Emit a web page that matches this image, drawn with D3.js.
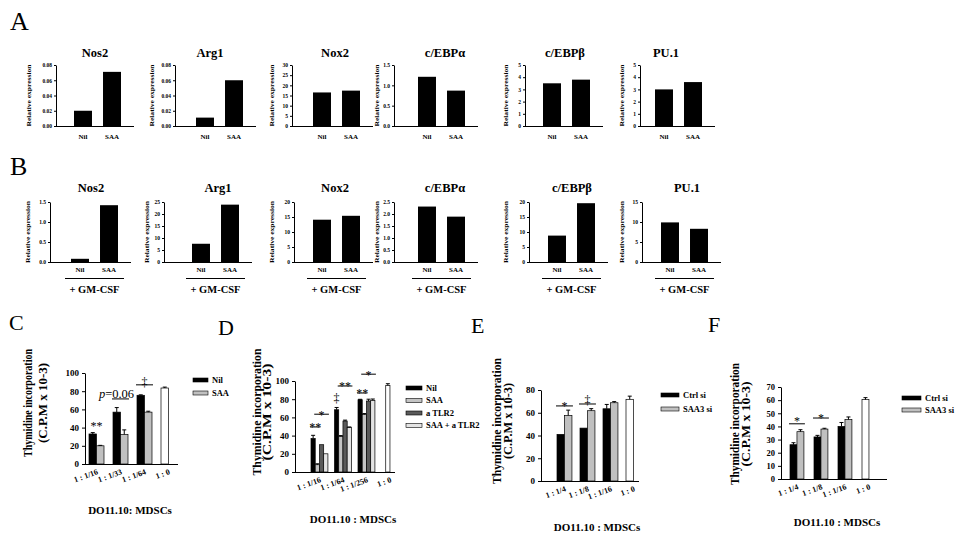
<!DOCTYPE html>
<html><head><meta charset="utf-8">
<script src="https://cdn.jsdelivr.net/npm/d3@7"></script>
<style>body{margin:0;background:#fff} svg{display:block}</style>
</head><body><svg id="c" width="966" height="537"></svg>
<script>
// ================= DATA =================
const genes = ["Nos2", "Arg1", "Nox2", "c/EBPα", "c/EBPβ", "PU.1"];
const conds = ["Nil", "SAA"];
// Panel A (relative expression)
const A_nil = [0.020, 0.011, 16.5, 1.21, 3.5, 3.0];
const A_saa = [0.071, 0.060, 17.4, 0.87, 3.8, 3.6];
const A_ymax = [0.08, 0.08, 30, 1.5, 5, 5];
const A_step = [0.02, 0.02, 5, 0.5, 1, 1];
const A_fmt = [".2f", ".2f", "d", ".1f", "d", "d"];
// Panel B (+ GM-CSF)
const B_nil = [0.08, 7.6, 14.1, 2.31, 8.8, 9.9];
const B_saa = [1.42, 23.9, 15.4, 1.89, 19.6, 8.3];
const B_ymax = [1.5, 25, 20, 2.5, 20, 15];
const B_step = [0.5, 5, 5, 0.5, 5, 5];
const B_fmt = [".1f", "d", "d", ".1f", "d", "d"];
// Panel C
const C_cats = ["1 : 1/16", "1 : 1/33", "1 : 1/64", "1 : 0"];
const C_series = ["Nil", "SAA"];
const C_vals = [[33, 57, 75.5], [20, 32.5, 57]];
const C_errs = [[1.5, 5, 0.5], [0.5, 5, 1]];
const C_alone = [83.5, 1];
// Panel D
const D_cats = ["1 : 1/16", "1 : 1/64", "1 : 1/256", "1 : 0"];
const D_series = ["Nil", "SAA", "a TLR2", "SAA + a TLR2"];
const D_vals = [[36.8, 68.4, 79.4], [8, 39, 63.2], [30, 56, 78], [20, 49, 78.7]];
const D_errs = [[3.5, 2.5, 0.5], [1, 1, 1], [0, 1, 2], [0, 0.5, 1.5]];
const D_alone = [95, 2];
// Panel E
const E_cats = ["1 : 1/4", "1 : 1/8", "1 : 1/16", "1 : 0"];
const E_series = ["Ctrl si", "SAA3 si"];
const E_vals = [[41, 46.5, 63.5], [57.6, 61.8, 68.8]];
const E_errs = [[0, 0, 3.8], [4.7, 1.8, 1]];
const E_alone = [71.8, 2.8];
// Panel F
const F_cats = ["1 : 1/4", "1 : 1/8", "1 : 1/16", "1 : 0"];
const F_series = ["Ctrl si", "SAA3 si"];
const F_vals = [[26.1, 32, 40], [36, 38, 45.2]];
const F_errs = [[1.5, 1.2, 3], [1.5, 0.6, 2]];
const F_alone = [60.4, 1.5];
// significance annotations: [category index, from series, to series, text, text value, line value]
const C_ann = [[0, 0, 1, "**", 45, null], [1, 0, 1, "p=0.06", 77, 71.5], [2, 0, 1, "‡", 90, 87]];
const D_ann = [[0, 0, 1, "**", 52.7, 49.5], [0, 1, 3, "*", 66, 63.5], [1, 0, 0, "‡", 82, null],
               [1, 1, 3, "**", 97.8, 94.5], [2, 0, 1, "**", 90, 86.8], [2, 1, 3, "*", 110, 107.5]];
const E_ann = [[0, 0, 1, "*", 68.6, 66], [1, 0, 1, "‡", 71, 67.7]];
const F_ann = [[0, 0, 1, "*", 46.4, 42], [1, 0, 1, "*", 48.5, 46.4]];

// ================= LAYOUT =================
const SERIF = '"Liberation Serif","Times New Roman",serif';
const svg = d3.select("#c");
const A_axisX = [56, 175, 292, 394, 525, 640];
const A_barX = [74, 196, 313, 418, 543, 655];
const A_titleX = [95, 210, 335, 445, 565, 666];
const A_labX = [29, 152, 272, 377, 506, 622];
const B_axisX = [50, 164, 294, 394, 529, 642];
const B_barX = [71, 192, 313, 418, 548, 661];
const B_titleX = [91, 218, 335, 445, 572, 687];
const B_labX = [28, 147, 272, 377, 506, 622];

function txt(g, x, y, s, size, opts = {}) {
  return g.append("text").attr("x", x).attr("y", y).text(s)
    .attr("font-family", SERIF).attr("font-size", size)
    .attr("font-weight", opts.weight || "bold")
    .attr("text-anchor", opts.anchor || "middle").attr("fill", "#000");
}

// clip for the partly cut y label of panel D
svg.append("defs").append("clipPath").attr("id", "clipD")
  .append("rect").attr("x", 252.5).attr("y", 300).attr("width", 200).attr("height", 237);

// panel letters
[["A", 10, 30, 26], ["B", 10, 175, 26], ["C", 9, 330, 22], ["D", 218, 335, 22], ["E", 471, 333, 22], ["F", 708, 332, 22]]
  .forEach(([s, x, y, f]) => txt(svg, x, y, s, f, { weight: "normal", anchor: "start" }));

function smallPanel(o) {
  const g = svg.append("g");
  const y = d3.scaleLinear().domain([0, o.ymax]).range([o.bottom, o.top]);
  const x = d3.scaleBand().domain(conds).range([o.barX, o.barX + 47]).paddingInner(0.38).paddingOuter(0);
  const ticks = d3.range(0, o.ymax + o.step / 2, o.step);
  const ga = g.append("g").attr("transform", `translate(${o.axisX},0)`)
    .call(d3.axisLeft(y).tickValues(ticks).tickFormat(d3.format(o.fmt)).tickSize(2).tickSizeOuter(0).tickPadding(2));
  ga.selectAll("path,line").attr("stroke", "#000");
  ga.selectAll("text").attr("font-size", 5.5).attr("font-family", SERIF).attr("font-weight", "bold");
  g.append("line").attr("x1", o.axisX).attr("x2", o.barX + 60).attr("y1", o.bottom + 0.5).attr("y2", o.bottom + 0.5).attr("stroke", "#000");
  g.selectAll("rect.bar").data(o.vals).join("rect").attr("class", "bar")
    .attr("x", (d, i) => x(conds[i])).attr("width", x.bandwidth())
    .attr("y", d => y(d)).attr("height", d => o.bottom - y(d)).attr("fill", "#000");
  conds.forEach(c => txt(g, x(c) + x.bandwidth() / 2, o.labY, c, 7));
  txt(g, o.titleX, o.titleY, o.title, 12.5);
  txt(g, 0, 0, "Relative expression", 7).attr("transform", `translate(${o.labX},${(o.top + o.bottom) / 2}) rotate(-90)`)
    .attr("dy", "0.35em").attr("textLength", 62).attr("lengthAdjust", "spacingAndGlyphs");
  if (o.gm) {
    g.append("line").attr("x1", o.barX - 6).attr("x2", o.barX + 53).attr("y1", o.gmLineY).attr("y2", o.gmLineY).attr("stroke", "#000");
    txt(g, o.barX + 23.5, o.gmY, "+ GM-CSF", 10.5);
  }
}

genes.forEach((gname, i) => {
  smallPanel({ title: gname, vals: [A_nil[i], A_saa[i]], ymax: A_ymax[i], step: A_step[i], fmt: A_fmt[i],
    axisX: A_axisX[i], barX: A_barX[i], titleX: A_titleX[i], labX: A_labX[i],
    top: 65, bottom: 126, titleY: 57, labY: 139 });
  smallPanel({ title: gname, vals: [B_nil[i], B_saa[i]], ymax: B_ymax[i], step: B_step[i], fmt: B_fmt[i],
    axisX: B_axisX[i], barX: B_barX[i], titleX: B_titleX[i], labX: B_labX[i],
    top: 202, bottom: 262, titleY: 192, labY: 272, gm: true, gmLineY: 278.5, gmY: 293 });
});

function groupPanel(o) {
  const g = svg.append("g");
  const n = o.cats.length;
  const y = d3.scaleLinear().domain([0, o.ymax]).range([o.bottom, o.top]);
  const x0 = d3.scaleBand().domain(o.cats).range([o.firstX, o.firstX + o.step * (n - o.pi)]).paddingInner(o.pi).paddingOuter(0);
  const x1 = d3.scaleBand().domain(d3.range(o.series.length)).range([0, x0.bandwidth()]);
  const ga = g.append("g").attr("transform", `translate(${o.axisX},0)`)
    .call(d3.axisLeft(y).tickValues(d3.range(0, o.ymax + 1, o.tstep)).tickSize(3).tickSizeOuter(0).tickPadding(3));
  ga.selectAll("path,line").attr("stroke", "#000");
  ga.selectAll("text").attr("font-size", o.tickFont).attr("font-family", SERIF).attr("font-weight", "bold");
  g.append("line").attr("x1", o.axisX).attr("x2", o.axisX + o.xLen).attr("y1", o.bottom + 0.5).attr("y2", o.bottom + 0.5).attr("stroke", "#000");

  const rows = [];
  o.vals.forEach((arr, si) => arr.forEach((v, ci) => rows.push({ ci, si, v, e: o.errs[si][ci], fill: o.colors[si] })));
  rows.push({ ci: n - 1, si: o.aloneSlot, v: o.alone[0], e: o.alone[1], fill: "#fff" });
  rows.forEach(r => {
    const bx = x0(o.cats[r.ci]) + x1(r.si), bw = x1.bandwidth();
    g.append("rect").attr("x", bx).attr("width", bw).attr("y", y(r.v)).attr("height", o.bottom - y(r.v))
      .attr("fill", r.fill).attr("stroke", "#000").attr("stroke-width", 0.7);
    if (r.e > 0) {
      const cx = bx + bw / 2;
      g.append("line").attr("x1", cx).attr("x2", cx).attr("y1", y(r.v)).attr("y2", y(r.v + r.e)).attr("stroke", "#000");
      g.append("line").attr("x1", cx - 2).attr("x2", cx + 2).attr("y1", y(r.v + r.e)).attr("y2", y(r.v + r.e)).attr("stroke", "#000");
    }
  });
  // x tick labels (rotated)
  o.cats.forEach(c => {
    const cx = x0(c) + x0.bandwidth() / 2 + 2;
    txt(g, 0, 0, c, 8, { anchor: "end" }).attr("transform", `translate(${cx},${o.bottom + 10}) rotate(-20)`);
  });
  // annotations
  o.ann.forEach(([ci, f, t, s, tv, lv]) => {
    const xa = x0(o.cats[ci]) + x1(f), xb = x0(o.cats[ci]) + x1(t) + x1.bandwidth();
    if (lv != null) g.append("line").attr("x1", xa - 1).attr("x2", xb + 1).attr("y1", y(lv)).attr("y2", y(lv)).attr("stroke", "#000");
    if (s.startsWith("p=")) {
      const t = txt(g, (xa + xb) / 2 - 4, y(tv), "", 12.5, { weight: "normal" }).attr("dy", "0.35em");
      t.append("tspan").attr("font-style", "italic").text("p");
      t.append("tspan").text(s.slice(1));
    } else {
      txt(g, (xa + xb) / 2, y(tv), s, 12, { weight: "normal" }).attr("dy", s === "‡" ? "0.35em" : "0.6em");
    }
  });
  // legend
  o.series.forEach((s, i) => {
    const ly = o.legY[i];
    g.append("rect").attr("x", o.legX).attr("y", ly - 2).attr("width", o.legW).attr("height", 4)
      .attr("fill", o.colors[i]).attr("stroke", "#000").attr("stroke-width", 0.6);
    txt(g, o.legX + o.legW + 4, ly, s, 8.5, { anchor: "start" }).attr("dy", "0.35em");
  });
  // y label
  const yl = o.ylab;
  const lg = g.append("g");
  if (o.clip) lg.attr("clip-path", `url(#${o.clip})`);
  txt(lg, 0, 0, "Thymidine incorporation", yl.f).attr("transform", `translate(${yl.x1},${yl.cy}) rotate(-90)`)
    .attr("dy", "0.35em").attr("textLength", yl.l1).attr("lengthAdjust", "spacingAndGlyphs");
  txt(lg, 0, 0, "(C.P.M x 10-3)", yl.f).attr("transform", `translate(${yl.x2},${yl.cy}) rotate(-90)`)
    .attr("dy", "0.35em").attr("textLength", yl.l2).attr("lengthAdjust", "spacingAndGlyphs");
  txt(g, o.xtitle[0], o.xtitle[1], o.xtitle[2], 11);
}

groupPanel({ cats: C_cats, series: C_series, vals: C_vals, errs: C_errs, alone: C_alone, aloneSlot: 0, ann: C_ann,
  colors: ["#000", "#c0c0c0"], ymax: 100, tstep: 20, top: 373, bottom: 464, axisX: 85, xLen: 93,
  firstX: 89, step: 24, pi: 0.375, tickFont: 9, legX: 193, legW: 15, legY: [380, 393],
  ylab: { x1: 27, x2: 42, cy: 403, l1: 108, l2: 80, f: 13 }, xtitle: [130, 514, "DO11.10: MDSCs"] });

groupPanel({ cats: D_cats, series: D_series, vals: D_vals, errs: D_errs, alone: D_alone, aloneSlot: 1, ann: D_ann,
  colors: ["#000", "#c4c4c4", "#5a5a5a", "#e4e4e4"], ymax: 100, tstep: 20, top: 381, bottom: 472, axisX: 295, xLen: 100,
  firstX: 311, step: 23.5, pi: 0.28, tickFont: 9, legX: 406, legW: 16, legY: [388, 400.5, 413, 425.5],
  ylab: { x1: 257, x2: 267, cy: 412, l1: 127, l2: 97, f: 11.5 }, xtitle: [353, 523, "DO11.10 : MDSCs"], clip: "clipD" });

groupPanel({ cats: E_cats, series: E_series, vals: E_vals, errs: E_errs, alone: E_alone, aloneSlot: 0, ann: E_ann,
  colors: ["#000", "#c0c0c0"], ymax: 80, tstep: 20, top: 390, bottom: 481, axisX: 541, xLen: 98,
  firstX: 557, step: 23, pi: 0.35, tickFont: 9, legX: 661, legW: 18, legY: [395, 409],
  ylab: { x1: 497, x2: 508, cy: 421, l1: 126, l2: 76, f: 11.5 }, xtitle: [597, 531, "DO11.10 : MDSCs"] });

groupPanel({ cats: F_cats, series: F_series, vals: F_vals, errs: F_errs, alone: F_alone, aloneSlot: 0, ann: F_ann,
  colors: ["#000", "#c0c0c0"], ymax: 70, tstep: 10, top: 387, bottom: 479, axisX: 781, xLen: 106,
  firstX: 790, step: 24, pi: 0.42, tickFont: 8.5, legX: 902, legW: 19, legY: [398, 410],
  ylab: { x1: 735, x2: 746, cy: 424, l1: 122, l2: 85, f: 11.5 }, xtitle: [837, 526, "DO11.10 : MDSCs"] });
</script></body></html>
